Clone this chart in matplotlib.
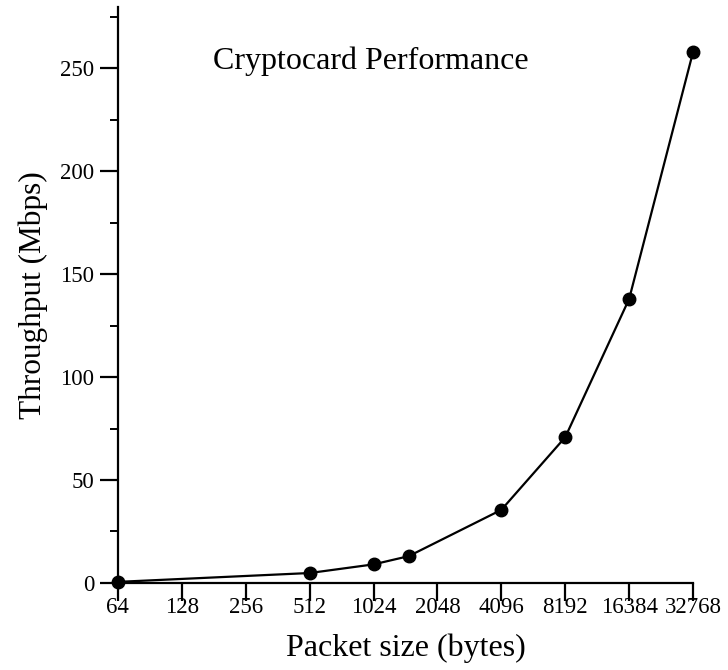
import matplotlib
matplotlib.use("Agg")
import matplotlib.pyplot as plt
from matplotlib.ticker import FixedLocator, MultipleLocator, NullLocator

plt.rcParams["font.family"] = ["Liberation Serif", "DejaVu Serif"]

# data
packet_sizes = [64, 512, 1024, 1500, 4096, 8192, 16384, 32768]
throughput = [0.5, 4.8, 9.0, 13.0, 35.5, 70.8, 138.0, 258.0]
xtick_values = [64, 128, 256, 512, 1024, 2048, 4096, 8192, 16384, 32768]

fig = plt.figure(figsize=(7.28, 6.7), dpi=100)
ax = fig.add_axes([0.162, 0.13, 0.79, 0.86])

ax.plot(packet_sizes, throughput, "-", color="black", linewidth=1.6,
        marker="o", markersize=9, clip_on=False, zorder=3)

ax.set_xscale("log", base=2)
ax.set_xlim(64, 32768)
ax.set_ylim(0, 280)

ax.xaxis.set_major_locator(FixedLocator(xtick_values))
ax.xaxis.set_minor_locator(NullLocator())
ax.set_xticklabels([str(v) for v in xtick_values])
ax.yaxis.set_major_locator(MultipleLocator(50))
ax.yaxis.set_minor_locator(MultipleLocator(25))

for side in ("top", "right"):
    ax.spines[side].set_visible(False)
for side in ("left", "bottom"):
    ax.spines[side].set_linewidth(1.6)

ax.tick_params(axis="both", which="major", direction="out", length=13,
               width=1.6, labelsize=16.5)
ax.tick_params(axis="x", which="major", pad=-3)
ax.tick_params(axis="y", which="major", pad=4)
ax.tick_params(axis="y", which="minor", direction="out", length=6, width=1.4)

ax.set_xlabel("Packet size (bytes)", fontsize=23, labelpad=11.5)
ax.set_ylabel("Throughput (Mbps)", fontsize=22.5, labelpad=8.5)

ax.text(0.44, 0.905, "Cryptocard Performance", transform=ax.transAxes,
        fontsize=23, ha="center", va="center")

fig.savefig("out.png", dpi=100)
